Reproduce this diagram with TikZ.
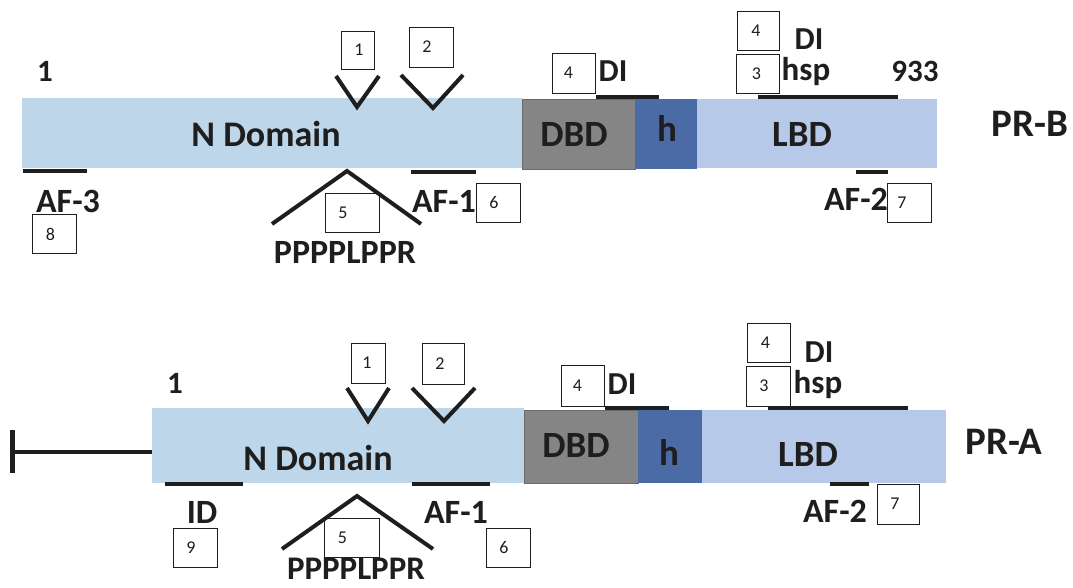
\documentclass[tikz,border=0pt]{standalone}
\usepackage{fontspec}
\setmainfont{Carlito}
\definecolor{nblue}{RGB}{189,214,233}
\definecolor{lblue}{RGB}{183,201,232}
\definecolor{dbdgray}{RGB}{133,133,133}
\definecolor{hblue}{RGB}{74,107,166}
\definecolor{ink}{RGB}{30,30,30}
\tikzset{
  seg/.style={inner sep=0pt, outer sep=0pt, anchor=north west},
  lab/.style={font=\bfseries\fontsize{#1}{#1}\selectfont, text=ink, inner sep=0pt, anchor=base},
  lab/.default=34,
  numbox/.style={draw=ink, line width=0.9pt, inner sep=0pt},
  numtxt/.style={font=\fontsize{18}{18}\selectfont, text=ink, inner sep=0pt},
  feat/.style={line width=4pt, draw=ink},
  vmark/.style={line width=4pt, draw=ink, line join=miter},
}
\newcommand\nbox[7]{%
  \node[numbox, minimum width=#4, minimum height=#5] (#1) at (#2,#3) {};
  \node[numtxt] (#1t) at ([xshift=#6]#1.center) {#7};}
\begin{document}
\begin{tikzpicture}[x=1pt,y=-1pt]
\useasboundingbox (0,0) rectangle (1073,588);
% ---------------- PR-B ----------------
\node[seg, fill=nblue, minimum width=500pt, minimum height=70pt] (nB) at (22,98) {};
\node[seg, fill=lblue, minimum width=240pt, minimum height=69pt] (lB) at (697,99) {};
\node[seg, fill=dbdgray, draw=dbdgray!80!black, line width=0.6pt, minimum width=113pt, minimum height=70pt] (dB) at (522,99) {};
\node[seg, fill=hblue, minimum width=62pt, minimum height=70pt] (hB) at (635,99) {};
\node[lab=36] (tnB) at (266,147) {N Domain};
\node[lab=37] (tdB) at (574,147) {DBD};
\node[lab=37] (thB) at (667,142) {h};
\node[lab=37] (tlB) at (802,147) {LBD};
\node[lab=39] (prB) at (1030,137) {PR-B};
\node[lab=31] (oneB) at (45,82) {1};
\node[lab=31] (endB) at (915,82) {933};
\node[lab=34] (af3B) at (68,212) {AF-3};
\node[lab=34] (af1B) at (444,212) {AF-1};
\node[lab=34] (af2B) at (856,211) {AF-2};
\node[lab=34] (ppB) at (345,263) {PPPPLPPR};
\node[lab=32] (di1B) at (613,82) {DI};
\node[lab=32] (di2B) at (809,50) {DI};
\node[lab=33] (hspB) at (806,81) {hsp};
\draw[feat] (23,171) -- (87,171);
\draw[feat] (411,172) -- (476,172);
\draw[feat] (856,172) -- (888,172);
\draw[feat] (596,97) -- (659,97);
\draw[feat] (758,97) -- (898,97);
\draw[vmark] (336,76) -- (357,107) -- (379,76);
\draw[vmark] (401,75) -- (433,108) -- (463,75);
\draw[vmark] (272,224) -- (347,171) -- (421,224);
\nbox{bB1}{357.5}{50}{33}{38}{1.5}{1}
\nbox{bB2}{431}{47}{44}{40}{-4}{2}
\nbox{bB4a}{573.5}{73}{43}{40}{-5}{4}
\nbox{bB4b}{758}{30.5}{42}{39}{-2}{4}
\nbox{bB3}{757.5}{73.5}{43}{39}{-1}{3}
\nbox{bB5}{352}{212.5}{54}{39}{-9}{5}
\nbox{bB6}{498}{202.5}{44}{39}{-4}{6}
\nbox{bB7}{909}{202.5}{44}{39}{-7}{7}
\nbox{bB8}{54}{234}{44}{39}{-3.5}{8}
% ---------------- PR-A ----------------
\node[seg, fill=nblue, minimum width=372pt, minimum height=75pt] (nA) at (152,408) {};
\node[seg, fill=lblue, minimum width=244pt, minimum height=73pt] (lA) at (702,410) {};
\node[seg, fill=dbdgray, draw=dbdgray!80!black, line width=0.6pt, minimum width=114pt, minimum height=73pt] (dA) at (524,410) {};
\node[seg, fill=hblue, minimum width=64pt, minimum height=73pt] (hA) at (638,410) {};
\node[lab=36] (tnA) at (318,470) {N Domain};
\node[lab=37] (tdA) at (576,457) {DBD};
\node[lab=37] (thA) at (669,465) {h};
\node[lab=37] (tlA) at (808,466) {LBD};
\node[lab=39] (prA) at (1004,454) {PR-A};
\node[lab=31] (oneA) at (175,393) {1};
\node[lab=34] (idA) at (202,523) {ID};
\node[lab=34] (af1A) at (456,523) {AF-1};
\node[lab=34] (af2A) at (835,522) {AF-2};
\node[lab=33] (ppA) at (356,579) {PPPPLPPR};
\node[lab=32] (di1A) at (622,394) {DI};
\node[lab=32] (di2A) at (819,362) {DI};
\node[lab=33] (hspA) at (818,393) {hsp};
\coordinate (tL) at (10,452);
\coordinate (tR) at (152,452);
\draw[line width=4.5pt, draw=ink] (tL) -- (tR);
\draw[line width=5pt, draw=ink] (12,430) -- (12,473);
\draw[feat] (165,484) -- (243,484);
\draw[feat] (412,484) -- (490,484);
\draw[feat] (830,484) -- (869,484);
\draw[feat] (605,408) -- (669,408);
\draw[feat] (768,408) -- (908,408);
\draw[vmark] (347,388) -- (368,421) -- (389,388);
\draw[vmark] (412,388) -- (444,421) -- (475,388);
\draw[vmark] (282,549) -- (357,496) -- (433,549);
\nbox{bA1}{368}{363}{34}{40}{-1}{1}
\nbox{bA2}{443}{363.5}{42}{41}{-3}{2}
\nbox{bA4a}{582.5}{385.5}{43}{41}{-5}{4}
\nbox{bA4b}{768.5}{342.5}{43}{39}{-3}{4}
\nbox{bA3}{768}{386}{44}{40}{-4}{3}
\nbox{bA5}{351.5}{537.5}{55}{39}{-9}{5}
\nbox{bA6}{508}{547.5}{44}{39}{-4}{6}
\nbox{bA7}{898}{504}{42}{40}{-3}{7}
\nbox{bA9}{195}{547.5}{44}{39}{-4}{9}
\end{tikzpicture}
\end{document}
